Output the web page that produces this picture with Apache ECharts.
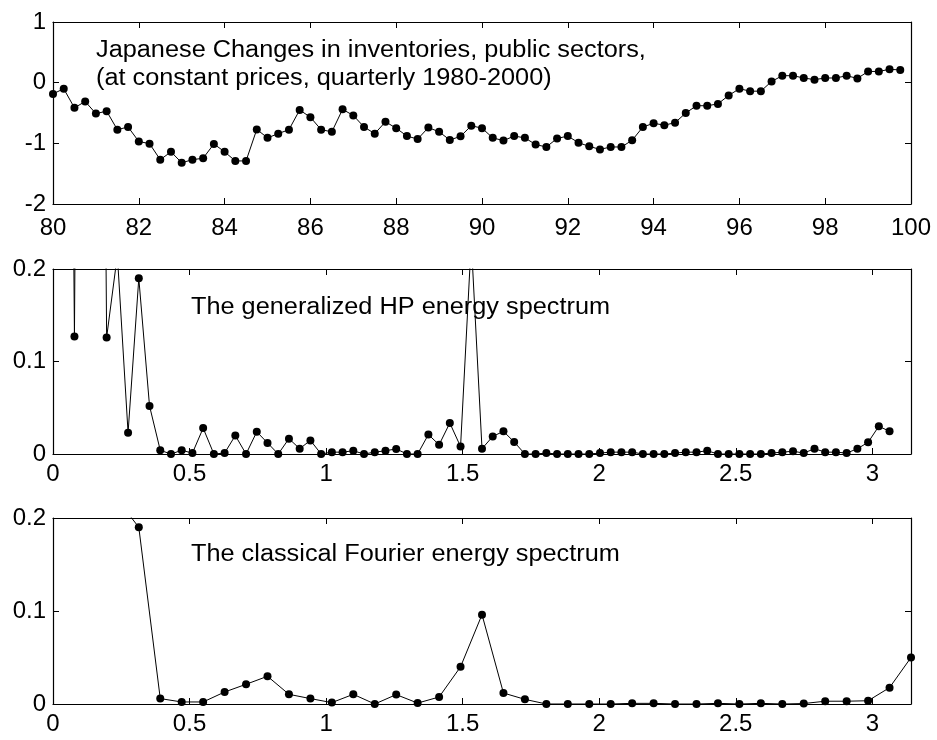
<!DOCTYPE html>
<html>
<head>
<meta charset="utf-8">
<script src="https://cdn.jsdelivr.net/npm/echarts@6/dist/echarts.min.js"></script>
<style>
  html, body { margin: 0; padding: 0; background: #fff; }
  #chart { width: 937px; height: 740px; }
</style>
</head>
<body>
<div id="chart"></div>
<script>
const FONT = '"Liberation Sans", Arial, Helvetica, sans-serif';

// Japanese changes in inventories, public sectors (constant prices), quarterly 1980Q1 - 1999Q4
const firstYear = 80;              // two-digit year of the first quarter
const quartersPerYear = 4;
const inventories = [
  -0.185, -0.10, -0.415, -0.31,
  -0.51, -0.47, -0.775, -0.73,
  -0.97, -1.005, -1.27, -1.14,
  -1.32, -1.27, -1.245, -1.01,
  -1.14, -1.29, -1.29, -0.77,
  -0.91, -0.84, -0.775, -0.45,
  -0.57, -0.775, -0.81, -0.44,
  -0.54, -0.73, -0.84, -0.645,
  -0.75, -0.88, -0.93, -0.74,
  -0.81, -0.945, -0.885, -0.71,
  -0.75, -0.91, -0.955, -0.88,
  -0.91, -1.02, -1.06, -0.92,
  -0.88, -0.99, -1.05, -1.10,
  -1.06, -1.06, -0.95, -0.73,
  -0.67, -0.70, -0.66, -0.50,
  -0.38, -0.38, -0.35, -0.21,
  -0.10, -0.14, -0.14, 0.02,
  0.115, 0.115, 0.077, 0.05,
  0.077, 0.077, 0.115, 0.07,
  0.185, 0.185, 0.22, 0.21
];

// Generalized HP energy spectrum at frequencies k*pi/80, k = 1..78
const hpStep = Math.PI / 80;
const hpSpectrum = [
  1.5, 0.127, 1.9, 1.6, 0.126, 0.215, 0.023, 0.190, 0.052, 0.004,
  0.0, 0.004, 0.001, 0.028, 0.0, 0.001, 0.020, 0.0, 0.024, 0.012,
  0.0, 0.0166, 0.0057, 0.0147, 0.0, 0.002, 0.002, 0.0035, 0.0, 0.002,
  0.0035, 0.0055, 0.0, 0.0, 0.021, 0.010, 0.0335, 0.008, 0.23, 0.0057,
  0.019, 0.0245, 0.013, 0.0, 0.0, 0.001, 0.0, 0.0, 0.0, 0.0,
  0.001, 0.002, 0.002, 0.002, 0.0, 0.0, 0.0, 0.001, 0.002, 0.002,
  0.0035, 0.0, 0.0, 0.0, 0.0, 0.0, 0.001, 0.002, 0.003, 0.001,
  0.0057, 0.002, 0.002, 0.001, 0.0057, 0.0126, 0.030, 0.0245
];

// Classical Fourier energy spectrum at frequencies 2*k*pi/80, k = 1..40
const fourierStep = 2 * Math.PI / 80;
const fourierSpectrum = [
  0.9, 0.45, 0.22, 0.19, 0.0058, 0.0022, 0.0022, 0.0129, 0.0212, 0.0298,
  0.0104, 0.0058, 0.0015, 0.0104, 0.0, 0.0101, 0.001, 0.0075, 0.040, 0.0961,
  0.0118, 0.005, 0.0, 0.0, 0.0, 0.0, 0.0007, 0.0007, 0.0, 0.0,
  0.0007, 0.0, 0.0007, 0.0, 0.0005, 0.003, 0.003, 0.0035, 0.0176, 0.050
];

// Tick labels
const yearTicks = [80, 82, 84, 86, 88, 90, 92, 94, 96, 98, 100];
const inventoryTicks = [-2, -1, 0, 1];
const freqTicks = [0, 0.5, 1, 1.5, 2, 2.5, 3];
const energyTicks = [0, 0.1, 0.2];

// Panel texts
const panelTexts = [
  'Japanese Changes in inventories, public sectors,\n(at constant prices, quarterly 1980-2000)',
  'The generalized HP energy spectrum',
  'The classical Fourier energy spectrum'
];

const INK = '#000';
const frameLine = { show: true, onZero: false, lineStyle: { color: INK, width: 1.2 } };
const innerTick = { show: true, inside: true, length: 6, lineStyle: { color: INK, width: 1 } };

function labelFrom(ticks) {
  return function (v) {
    return ticks.some(t => Math.abs(t - v) < 1e-9) ? String(v) : '';
  };
}

function xPair(grid, ticks, max, margin) {
  const base = {
    type: 'value', gridIndex: grid, min: ticks[0], max: max,
    interval: ticks[1] - ticks[0], splitLine: { show: false },
    axisLine: frameLine, axisTick: innerTick
  };
  return [
    Object.assign({}, base, {
      position: 'bottom',
      axisLabel: { show: true, margin: margin, color: INK, fontSize: 24, fontFamily: FONT,
                   showMaxLabel: true, formatter: labelFrom(ticks) }
    }),
    Object.assign({}, base, { position: 'top', axisLabel: { show: false } })
  ];
}

function yPair(grid, ticks) {
  const base = {
    type: 'value', gridIndex: grid, min: ticks[0], max: ticks[ticks.length - 1],
    interval: ticks[1] - ticks[0], splitLine: { show: false },
    axisLine: frameLine, axisTick: innerTick
  };
  return [
    Object.assign({}, base, {
      position: 'left',
      axisLabel: { show: true, margin: 7, color: INK, fontSize: 24, fontFamily: FONT,
                   formatter: labelFrom(ticks) }
    }),
    Object.assign({}, base, { position: 'right', axisLabel: { show: false } })
  ];
}

function dotLine(xi, yi, points) {
  return {
    type: 'line', xAxisIndex: xi, yAxisIndex: yi, data: points,
    symbol: 'circle', symbolSize: 8, showSymbol: true, clip: true,
    lineStyle: { color: INK, width: 1 }, itemStyle: { color: INK },
    emphasis: { disabled: true }, animation: false
  };
}

const inventoryPoints = inventories.map((v, i) => [firstYear + i / quartersPerYear, v]);
const hpPoints = hpSpectrum.map((v, i) => [(i + 1) * hpStep, v]);
const fourierPoints = fourierSpectrum.map((v, i) => [(i + 1) * fourierStep, v]);

function panelText(x, y, text) {
  return {
    type: 'text', x: x, y: y, scaleX: 1.1, silent: true,
    style: { text: text, fill: INK, fontSize: 23, fontFamily: FONT, lineHeight: 28 }
  };
}

const chart = echarts.init(document.getElementById('chart'), null, { renderer: 'canvas' });
chart.setOption({
  backgroundColor: '#fff',
  animation: false,
  grid: [
    { left: 53, top: 22, width: 858, height: 182 },
    { left: 53, top: 269, width: 858, height: 185 },
    { left: 53, top: 518, width: 858, height: 186 }
  ],
  xAxis: [].concat(
    xPair(0, yearTicks, yearTicks[yearTicks.length - 1], 12),
    xPair(1, freqTicks, Math.PI, 8),
    xPair(2, freqTicks, Math.PI, 8)
  ),
  yAxis: [].concat(
    yPair(0, inventoryTicks),
    yPair(1, energyTicks),
    yPair(2, energyTicks)
  ),
  series: [
    dotLine(0, 0, inventoryPoints),
    dotLine(2, 2, hpPoints),
    dotLine(4, 4, fourierPoints)
  ],
  graphic: [
    panelText(96, 37, panelTexts[0]),
    panelText(191, 294, panelTexts[1]),
    panelText(191, 541, panelTexts[2])
  ]
});
</script>
</body>
</html>
